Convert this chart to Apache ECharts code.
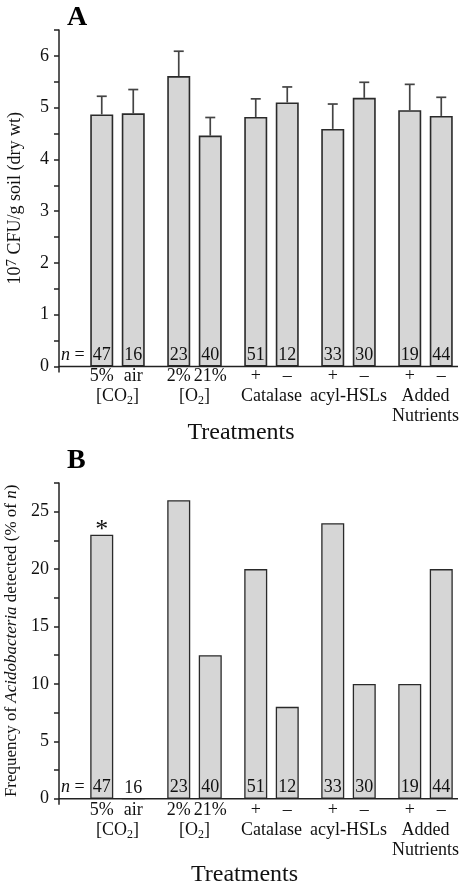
<!DOCTYPE html>
<html><head><meta charset="utf-8">
<script src="https://cdn.jsdelivr.net/npm/echarts@6/dist/echarts.min.js"></script>
<style>html,body{margin:0;padding:0;background:#fff}#c{width:460px;height:888px}</style>
</head><body><div id="c"></div><script>
// ---- data ----
const groupNames = ['[CO2]', '[O2]', 'Catalase', 'acyl-HSLs', 'Added Nutrients'];
const subFirst = ['5%', '2%', '+', '+', '+'];
const subSecond = ['air', '21%', '–', '–', '–'];
const nFirst = [47, 23, 51, 33, 19];
const nSecond = [16, 40, 12, 30, 44];
const cfuFirst = [4.87, 5.61, 4.82, 4.59, 4.95];
const cfuFirstErr = [0.35, 0.48, 0.35, 0.48, 0.50];
const cfuSecond = [4.89, 4.46, 5.10, 5.19, 4.84];
const cfuSecondErr = [0.46, 0.35, 0.30, 0.30, 0.36];
const freqFirst = [23, 26, 20, 24, 10];
const freqSecond = [0, 12.5, 8, 10, 20];
const starredFirst = [0];

// ---- style / layout ----
const FONT = '"Liberation Serif", "Times New Roman", serif';
const FS = 18;
const BAR_W = 23, GAP = 0.37;
const OFFSET = BAR_W * (1 + GAP) / 2;
const gridA = {left: 79, top: 30, width: 385, height: 336.5, outerBoundsMode: 'none', containLabel: false};
const gridB = {left: 79, top: 483, width: 385, height: 315.7, outerBoundsMode: 'none', containLabel: false};
const axisX = 59, axisXEnd = 458;

const chart = echarts.init(document.getElementById('c'), null, {renderer: 'canvas'});

function catLabel(value, idx) {
  const g = groupNames[idx].replace(/([A-Z])(\d)/g, '$1{sub|$2}').replace(' ', '\n');
  return '{s|' + subFirst[idx] + '}{s|' + subSecond[idx] + '}\n' + g;
}
const catRich = {
  s: {width: OFFSET * 2, align: 'center', fontFamily: FONT, fontSize: FS, color: '#111', lineHeight: 20},
  sub: {fontFamily: FONT, fontSize: 12, color: '#111', verticalAlign: 'bottom', lineHeight: 20}
};
function xAxis(gi, margin) {
  return {type: 'category', gridIndex: gi, data: groupNames,
    axisLine: {show: false}, axisTick: {show: false},
    axisLabel: {interval: 0, margin: margin, formatter: catLabel, rich: catRich,
      fontFamily: FONT, fontSize: FS, color: '#111', lineHeight: 20, hideOverlap: false}};
}
function yAxis(gi, max, interval, labelEvery, name, nameSize, rich) {
  return {type: 'value', gridIndex: gi, min: 0, max: max, interval: interval, offset: 20,
    axisLine: {show: true, lineStyle: {color: '#222', width: 1.5}},
    axisTick: {show: true, length: 5, lineStyle: {color: '#222', width: 1.5}},
    splitLine: {show: false},
    axisLabel: {margin: 10, fontFamily: FONT, fontSize: FS, color: '#111',
      formatter: v => (Math.abs(v / labelEvery - Math.round(v / labelEvery)) < 1e-6 ? String(v) : '')},
    name: name, nameLocation: 'middle', nameGap: 34, nameRotate: 90,
    nameTextStyle: {fontFamily: FONT, fontSize: nameSize, color: '#111', rich: rich}};
}
function barSeries(gi, vals, ns, bw) {
  return {type: 'bar', xAxisIndex: gi, yAxisIndex: gi, data: vals,
    barWidth: BAR_W, barGap: (GAP * 100) + '%', z: 3, silent: true,
    itemStyle: {color: '#d6d6d6', borderColor: '#2a2a2a', borderWidth: bw},
    label: {show: true, position: 'insideBottom', distance: 2, formatter: p => String(ns[p.dataIndex]),
      fontFamily: FONT, fontSize: FS, color: '#111'}};
}
function errSeries(gi, means, errs, sign) {
  return {type: 'custom', xAxisIndex: gi, yAxisIndex: gi, z: 2, silent: true,
    data: means.map((m, i) => [i, m, m + errs[i]]),
    renderItem: function (params, api) {
      const c = api.coord([api.value(0), api.value(1)]);
      const t = api.coord([api.value(0), api.value(2)]);
      const x = c[0] + sign * OFFSET;
      const st = {stroke: '#444', lineWidth: 1.7};
      return {type: 'group', children: [
        {type: 'line', shape: {x1: x, y1: c[1], x2: x, y2: t[1]}, style: st},
        {type: 'line', shape: {x1: x - 5, y1: t[1], x2: x + 5, y2: t[1]}, style: st}
      ]};
    }};
}
function starSeries(gi, vals, idxs, sign) {
  return {type: 'custom', xAxisIndex: gi, yAxisIndex: gi, z: 4, silent: true,
    data: idxs.map(i => [i, vals[i]]),
    renderItem: function (params, api) {
      const c = api.coord([api.value(0), api.value(1)]);
      return {type: 'text', x: c[0] + sign * OFFSET, y: c[1] + 9,
        style: {text: '*', fontFamily: FONT, fontSize: 26, fill: '#111', align: 'center', verticalAlign: 'bottom'}};
    }};
}

const gBot = [gridA.top + gridA.height, gridB.top + gridB.height];
const graphic = [];
gBot.forEach(function (yb) {
  graphic.push({type: 'line', shape: {x1: axisX, y1: yb, x2: axisXEnd, y2: yb}, style: {stroke: '#222', lineWidth: 1.5}, z: 10});
  graphic.push({type: 'line', shape: {x1: axisX, y1: yb, x2: axisX, y2: yb + 6}, style: {stroke: '#222', lineWidth: 1.5}, z: 10});
  graphic.push({type: 'text', x: 61, y: yb - 11.5, z: 10,
    style: {text: '{i|n} =', fontFamily: FONT, fontSize: FS, fill: '#111', verticalAlign: 'middle',
      rich: {i: {fontFamily: FONT, fontSize: FS, fontStyle: 'italic', fill: '#111'}}}});
});
graphic.push({type: 'text', x: 67, y: 18, style: {text: 'A', fontFamily: FONT, fontWeight: 'bold', fontSize: 28, fill: '#000', verticalAlign: 'middle'}});
graphic.push({type: 'text', x: 67, y: 461, style: {text: 'B', fontFamily: FONT, fontWeight: 'bold', fontSize: 28, fill: '#000', verticalAlign: 'middle'}});
graphic.push({type: 'text', x: 241, y: 433, style: {text: 'Treatments', fontFamily: FONT, fontSize: 24, fill: '#111', align: 'center', verticalAlign: 'middle'}});
graphic.push({type: 'text', x: 244.5, y: 875, style: {text: 'Treatments', fontFamily: FONT, fontSize: 24, fill: '#111', align: 'center', verticalAlign: 'middle'}});

const option = {
  backgroundColor: '#fff',
  animation: false,
  grid: [gridA, gridB],
  xAxis: [xAxis(0, 0), xAxis(1, 2)],
  yAxis: [
    yAxis(0, 6.5, 0.5, 1, '10{sup|7} CFU/g soil (dry wt)', 18,
      {sup: {fontFamily: FONT, fontSize: 15, color: '#111', verticalAlign: 'top', lineHeight: 20}}),
    yAxis(1, 27.5, 2.5, 5, 'Frequency of {i|Acidobacteria} detected (% of {i|n})', 17,
      {i: {fontFamily: FONT, fontSize: 17, fontStyle: 'italic', color: '#111'}})
  ],
  series: [
    errSeries(0, cfuFirst, cfuFirstErr, -1),
    errSeries(0, cfuSecond, cfuSecondErr, 1),
    barSeries(0, cfuFirst, nFirst, 1.6),
    barSeries(0, cfuSecond, nSecond, 1.6),
    barSeries(1, freqFirst, nFirst, 1.3),
    barSeries(1, freqSecond, nSecond, 1.3),
    starSeries(1, freqFirst, starredFirst, -1)
  ],
  graphic: graphic
};
chart.setOption(option);
</script></body></html>
